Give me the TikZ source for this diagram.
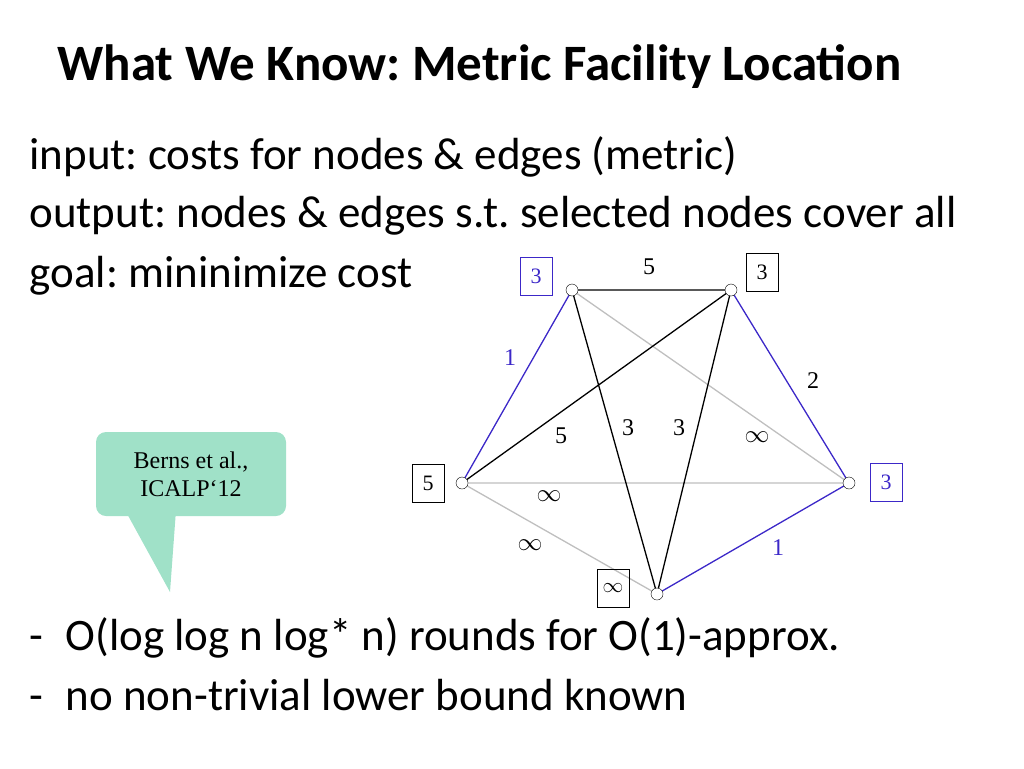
\documentclass[tikz,border=0pt]{standalone}
\usepackage{fontspec}
\setmainfont{Carlito}
\newfontfamily\serifnum{Liberation Serif}
\usetikzlibrary{positioning}
\definecolor{edgeblue}{RGB}{60,40,200}
\definecolor{mint}{RGB}{160,225,200}
\frenchspacing
\begin{document}
\begin{tikzpicture}
    [x=1pt, y=-1pt,
    % STYLES
    % The vertex style is used for the graph's nodes
    vertex/.style={circle, draw, fill=white, inner sep=0pt, minimum size=12pt},
    % The cost style is used for the boxed node costs
    cost/.style={rectangle, draw, inner sep=0pt, minimum width=32pt, minimum height=38pt, font=\fontsize{22}{22}\serifnum},
    % The weight style is used for the edge costs
    weight/.style={font=\fontsize{24}{24}\serifnum},
    line/.style={font=\fontsize{45}{50}\selectfont, anchor=west},
    blueedge/.style={draw=edgeblue, line width=1.3pt},
    blackedge/.style={draw=black, line width=1.3pt},
    grayedge/.style={draw=black!25, line width=1.3pt}]

    \useasboundingbox (0,0) rectangle (1024,768);

    % Texts
    \node [anchor=west, font=\fontsize{51}{56}\selectfont\bfseries] (title) at (54,67) {What We Know: Metric Facility Location};
    \node [line] (in) at (26,157) {input: costs for nodes \& edges (metric)};
    \node [line] (out) at (26,216) {output: nodes \& edges s.t. selected nodes cover all};
    \node [line] (goal) at (26,276) {goal: mininimize cost};
    \node [line] (r1) at (26,638) {-\enspace O(log log n log* n) rounds for O(1)-approx.};
    \node [line] (r2) at (26,695) {-\enspace no non-trivial lower bound known};

    % Callout
    \fill [mint] (125,510) -- (170,592) -- (176,510) -- cycle;
    \node [rectangle, rounded corners=10pt, fill=mint, minimum width=190pt, minimum height=84pt, align=center, font=\fontsize{24}{28}\serifnum] (cite) at (191,474) {Berns et al.,\\ICALP‘12};

    % Edges
    \coordinate (a) at (572,290);
    \coordinate (b) at (731,290);
    \coordinate (c) at (462,483);
    \coordinate (d) at (849,483);
    \coordinate (e) at (657,594);
    \path [grayedge] (a) -- (d) (c) -- (d) (c) -- (e);
    \path [blackedge] (a) -- (b) (a) -- (e) (b) -- (e) (c) -- (b);
    \path [blueedge] (a) -- (c) (b) -- (d) (e) -- (d);

    % Vertices
    \foreach \v in {a,b,c,d,e}
        \node [vertex] (\v v) at (\v) {};

    % Costs
    \node [cost, draw=edgeblue, text=edgeblue] (ca) at (536,276) {3};
    \node [cost] (cb) at (762,272) {3};
    \node [cost] (cc) at (428,483) {5};
    \node [cost, draw=edgeblue, text=edgeblue] (cd) at (886,482) {3};
    \node [cost] (ce) at (613,588) {$\infty$};

    % Weights
    \node [weight] (wab) at (649,267) {5};
    \node [weight, text=edgeblue] (wac) at (510,358) {1};
    \node [weight] (wbd) at (813,381) {2};
    \node [weight, text=edgeblue] (wed) at (778,548) {1};
    \node [weight] (wae) at (628,428) {3};
    \node [weight] (wbe) at (679,428) {3};
    \node [weight] (wcb) at (561,436) {5};
    \node [weight] (wad) at (757,437) {$\infty$};
    \node [weight] (wcd) at (549,496) {$\infty$};
    \node [weight] (wce) at (530,545) {$\infty$};
\end{tikzpicture}
\end{document}
